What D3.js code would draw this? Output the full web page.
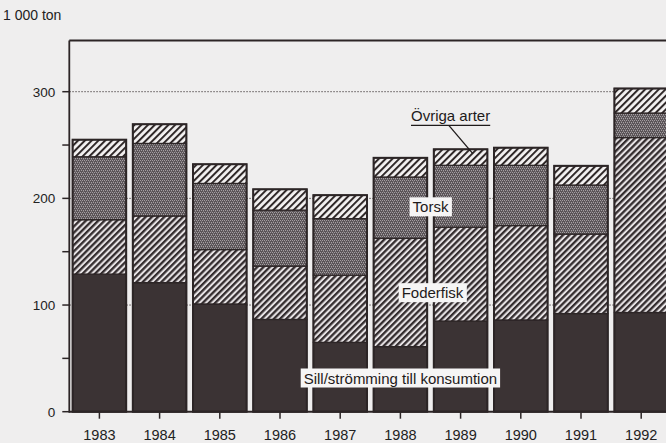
<!DOCTYPE html>
<html>
<head>
  <meta charset='utf-8'>
  <title>Fångst 1983-1992</title>
  <style>
    body { margin: 0; background: #efeeee; }
    svg { display: block; font-family: 'Liberation Sans', Arial, sans-serif; }
  </style>
  <script src='https://cdn.jsdelivr.net/npm/d3@7/dist/d3.min.js'></script>
</head>
<body>
  <svg id='chart' width='666' height='443'>
    <defs>
      <pattern id='hatch-foder' patternUnits='userSpaceOnUse'
          width='4.4' height='4.4' patternTransform='rotate(45)'>
        <rect width='4.4' height='4.4' fill='#e6e2e4' />
        <rect width='2.3' height='4.4' fill='#332c2e' />
      </pattern>
      <pattern id='hatch-ovriga' patternUnits='userSpaceOnUse'
          width='4.8' height='4.8' patternTransform='rotate(45)'>
        <rect width='4.8' height='4.8' fill='#f4f2f2' />
        <rect width='2' height='4.8' fill='#2f2828' />
      </pattern>
      <pattern id='stipple-torsk' patternUnits='userSpaceOnUse'
          width='4' height='4'>
        <rect width='4' height='4' fill='#5a5457' />
        <rect x='0' y='0' width='1' height='1' fill='#a49ea2' />
        <rect x='2' y='0' width='1' height='1' fill='#a49ea2' />
        <rect x='1' y='2' width='1' height='1' fill='#a49ea2' />
        <rect x='3' y='2' width='1' height='1' fill='#a49ea2' />
        <rect x='1' y='1' width='1' height='1' fill='#7c767a' />
        <rect x='3' y='3' width='1' height='1' fill='#7c767a' />
      </pattern>
    </defs>
  </svg>
  <script>
    // landings per year, 1 000 ton
    const years = ['1983', '1984', '1985', '1986', '1987',
                   '1988', '1989', '1990', '1991', '1992'];
    const sill = [129, 121, 101, 86.5, 65, 61, 85, 86, 92, 93];
    const foderfisk = [51, 62.5, 51, 50, 63, 101.5, 88, 88.5, 74.5, 164];
    const torsk = [59, 68, 62, 52.5, 53, 57.5, 58, 56.5, 46, 23];
    const ovriga = [16, 18, 18, 19.5, 22, 18, 15, 16.5, 18, 23];
    const yLabelTicks = [0, 100, 200, 300];
    const yMinorTicks = [50, 150, 250];
    const gridValues = [100, 200, 300];

    const keys = ['sill', 'foderfisk', 'torsk', 'ovriga'];
    const fills = {
        sill: '#3b3334',
        foderfisk: 'url(#hatch-foder)',
        torsk: 'url(#stipple-torsk)',
        ovriga: 'url(#hatch-ovriga)'
    };
    const table = years.map((year, i) => ({
        year: year,
        sill: sill[i],
        foderfisk: foderfisk[i],
        torsk: torsk[i],
        ovriga: ovriga[i]
    }));

    const ink = '#2c2526';
    const left = 69.3;
    const svg = d3.select('#chart');

    const x = d3.scaleBand()
        .domain(years)
        .range([left, left + 602])
        .paddingInner(0.11)
        .paddingOuter(0.055);
    const y = d3.scaleLinear()
        .domain([0, 348])
        .range([411.7, 40.5]);

    // dotted grid lines behind the bars
    svg.append('g')
        .selectAll('line')
        .data(gridValues)
        .join('line')
            .attr('x1', left)
            .attr('x2', 672)
            .attr('y1', d => y(d))
            .attr('y2', d => y(d))
            .attr('stroke', '#5a5354')
            .attr('stroke-width', 1)
            .attr('stroke-dasharray', '1.5,1.5');

    // top frame line
    svg.append('line')
        .attr('x1', left)
        .attr('x2', 672)
        .attr('y1', y(348))
        .attr('y2', y(348))
        .attr('stroke', ink)
        .attr('stroke-width', 1.8);

    // stacked bars
    const series = d3.stack().keys(keys)(table);
    const layers = svg.append('g')
        .selectAll('g')
        .data(series)
        .join('g')
            .attr('fill', d => fills[d.key]);
    layers.selectAll('rect')
        .data(d => d)
        .join('rect')
            .attr('x', d => x(d.data.year))
            .attr('width', x.bandwidth())
            .attr('y', d => y(d[1]))
            .attr('height', d => y(d[0]) - y(d[1]))
            .attr('stroke', ink)
            .attr('stroke-width', 1.3);
    // heavier outline round each whole bar
    svg.append('g')
        .selectAll('rect')
        .data(series[series.length - 1])
        .join('rect')
            .attr('x', d => x(d.data.year))
            .attr('width', x.bandwidth())
            .attr('y', d => y(d[1]))
            .attr('height', d => y(0) - y(d[1]))
            .attr('fill', 'none')
            .attr('stroke', ink)
            .attr('stroke-width', 2);

    // y axis
    const yAxis = svg.append('g')
        .attr('transform', `translate(${left}, 0)`);
    yAxis.append('line')
        .attr('y1', y(0) + 1)
        .attr('y2', y(348))
        .attr('stroke', ink)
        .attr('stroke-width', 1.8);
    yAxis.selectAll('line.tick')
        .data(yLabelTicks.concat(yMinorTicks))
        .join('line')
            .attr('class', 'tick')
            .attr('x1', -7)
            .attr('x2', 0)
            .attr('y1', d => y(d))
            .attr('y2', d => y(d))
            .attr('stroke', ink)
            .attr('stroke-width', 1.5);
    yAxis.selectAll('text')
        .data(yLabelTicks)
        .join('text')
            .attr('x', -14)
            .attr('y', d => y(d))
            .attr('dy', '0.36em')
            .attr('text-anchor', 'end')
            .attr('font-size', 13.5)
            .attr('fill', '#222')
            .text(d => d);
    svg.append('text')
        .attr('x', 3)
        .attr('y', 20)
        .attr('font-size', 14)
        .attr('fill', '#222')
        .text('1 000 ton');

    // x axis
    const xAxis = svg.append('g');
    xAxis.append('line')
        .attr('x1', left)
        .attr('x2', 672)
        .attr('y1', y(0))
        .attr('y2', y(0))
        .attr('stroke', ink)
        .attr('stroke-width', 2);
    xAxis.selectAll('line.tick')
        .data(years)
        .join('line')
            .attr('class', 'tick')
            .attr('x1', d => x(d) + x.bandwidth() / 2)
            .attr('x2', d => x(d) + x.bandwidth() / 2)
            .attr('y1', y(0))
            .attr('y2', y(0) + 7)
            .attr('stroke', ink)
            .attr('stroke-width', 1.5);
    xAxis.selectAll('text')
        .data(years)
        .join('text')
            .attr('x', d => x(d) + x.bandwidth() / 2)
            .attr('y', 440)
            .attr('text-anchor', 'middle')
            .attr('font-size', 14.5)
            .attr('fill', '#222')
            .text(d => d);

    // boxed labels inside the bars
    const gapMid = x('1989') - (x.step() - x.bandwidth()) / 2;
    const boxLabels = [
        { text: 'Torsk', cx: gapMid, value: 192 },
        { text: 'Foderfisk', cx: gapMid + 2, value: 111.5 },
        { text: 'Sill/strömming till konsumtion',
          cx: x('1988') + x.bandwidth() / 2, value: 31.5 }
    ];
    const labelGroups = svg.append('g')
        .selectAll('g')
        .data(boxLabels)
        .join('g');
    labelGroups.append('text')
        .attr('x', d => d.cx)
        .attr('y', d => y(d.value))
        .attr('dy', '0.36em')
        .attr('text-anchor', 'middle')
        .attr('font-size', 15)
        .attr('fill', '#1e1a1a')
        .text(d => d.text);
    labelGroups.each(function () {
        const g = d3.select(this);
        const box = g.select('text').node().getBBox();
        g.insert('rect', 'text')
            .attr('x', box.x - 3)
            .attr('y', box.y - 1)
            .attr('width', box.width + 6)
            .attr('height', box.height + 2)
            .attr('fill', '#f6f5f5');
    });

    // "Övriga arter" with underline and leader
    const ovrigaX = x('1989') + x.bandwidth() / 2 - 10;
    const ovrigaText = svg.append('text')
        .attr('x', ovrigaX)
        .attr('y', y(272.5))
        .attr('text-anchor', 'middle')
        .attr('font-size', 15)
        .attr('fill', '#1e1a1a')
        .text('Övriga arter');
    const ob = ovrigaText.node().getBBox();
    svg.append('line')
        .attr('x1', ob.x)
        .attr('x2', ob.x + ob.width)
        .attr('y1', y(268.5))
        .attr('y2', y(268.5))
        .attr('stroke', '#1e1a1a')
        .attr('stroke-width', 1.2);
    svg.append('line')
        .attr('x1', x('1989') + 15)
        .attr('y1', y(268.5))
        .attr('x2', x('1989') + 39)
        .attr('y2', y(242))
        .attr('stroke', '#1e1a1a')
        .attr('stroke-width', 1.3);
  </script>
</body>
</html>
